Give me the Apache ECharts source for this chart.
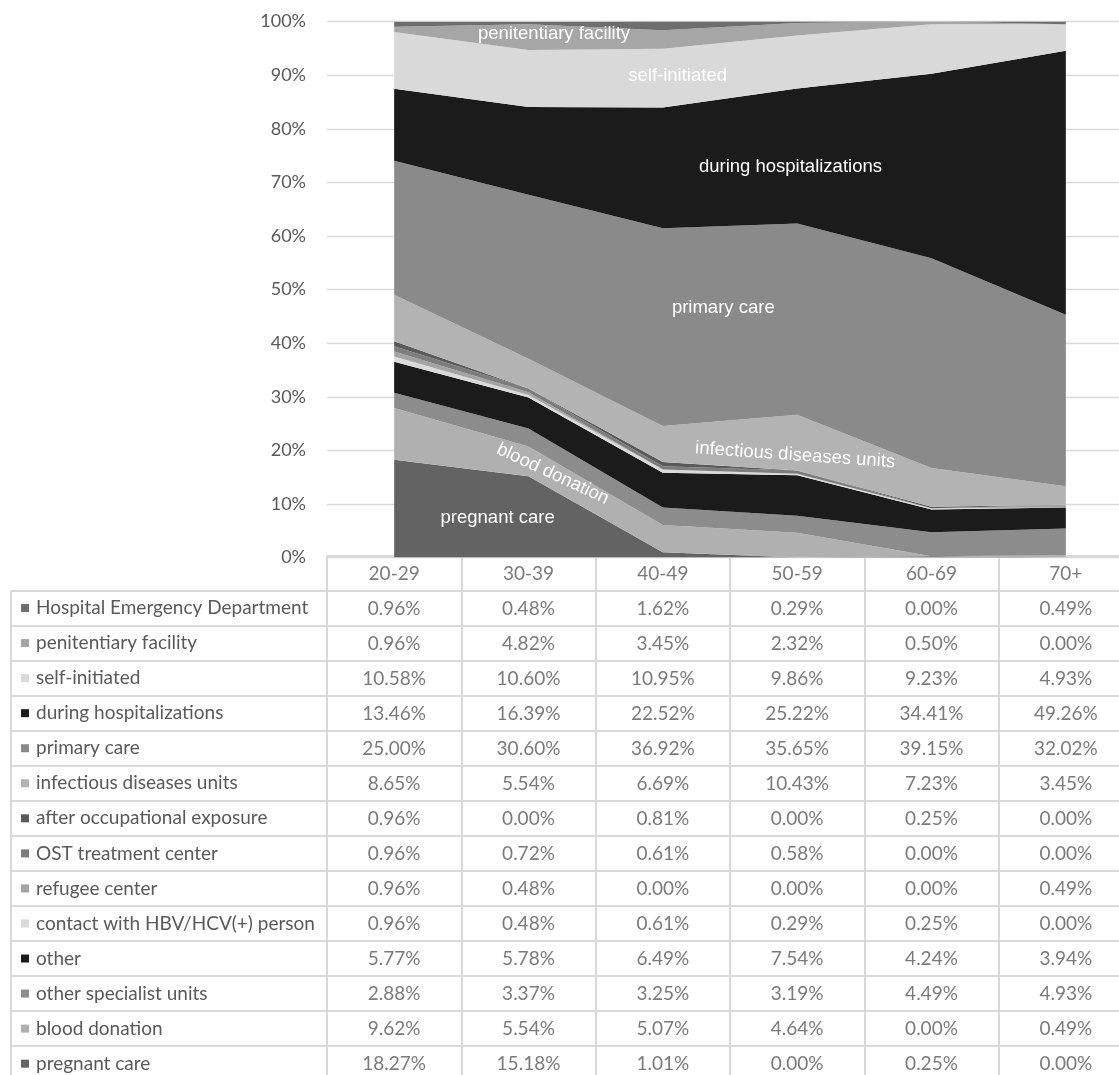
<!DOCTYPE html>
<html>
<head>
<meta charset="utf-8">
<script src="https://cdn.jsdelivr.net/npm/echarts@6/dist/echarts.min.js"></script>
<style>html,body{margin:0;padding:0;background:#fff;}#c{width:1119px;height:1075px;}</style>
</head>
<body>
<div id="c"></div>
<script>
// ---- data ----
const categories = ['20-29', '30-39', '40-49', '50-59', '60-69', '70+'];
const yTicks = [0, 10, 20, 30, 40, 50, 60, 70, 80, 90, 100];

const hospitalED      = [0.96, 0.48, 1.62, 0.29, 0.00, 0.49];
const penitentiary    = [0.96, 4.82, 3.45, 2.32, 0.50, 0.00];
const selfInitiated   = [10.58, 10.60, 10.95, 9.86, 9.23, 4.93];
const duringHosp      = [13.46, 16.39, 22.52, 25.22, 34.41, 49.26];
const primaryCare     = [25.00, 30.60, 36.92, 35.65, 39.15, 32.02];
const infectious      = [8.65, 5.54, 6.69, 10.43, 7.23, 3.45];
const occupational    = [0.96, 0.00, 0.81, 0.00, 0.25, 0.00];
const ostCenter       = [0.96, 0.72, 0.61, 0.58, 0.00, 0.00];
const refugee         = [0.96, 0.48, 0.00, 0.00, 0.00, 0.49];
const contactHBV      = [0.96, 0.48, 0.61, 0.29, 0.25, 0.00];
const other           = [5.77, 5.78, 6.49, 7.54, 4.24, 3.94];
const otherSpecialist = [2.88, 3.37, 3.25, 3.19, 4.49, 4.93];
const bloodDonation   = [9.62, 5.54, 5.07, 4.64, 0.00, 0.49];
const pregnantCare    = [18.27, 15.18, 1.01, 0.00, 0.25, 0.00];

// table order (top to bottom) = reverse of stacking order
const rowNames = ['Hospital Emergency Department', 'penitentiary facility', 'self-initiated',
  'during hospitalizations', 'primary care', 'infectious diseases units', 'after occupational exposure',
  'OST treatment center', 'refugee center', 'contact with HBV/HCV(+) person', 'other',
  'other specialist units', 'blood donation', 'pregnant care'];
const rowValues = [hospitalED, penitentiary, selfInitiated, duringHosp, primaryCare, infectious,
  occupational, ostCenter, refugee, contactHBV, other, otherSpecialist, bloodDonation, pregnantCare];
const rowColors = ['#6e6e6e', '#a6a6a6', '#d9d9d9', '#1b1b1b', '#8a8a8a', '#b3b3b3', '#5a5a5a',
  '#7d7d7d', '#a3a3a3', '#dadada', '#1b1b1b', '#8c8c8c', '#b0b0b0', '#636363'];

// in-chart area labels: [text, category position, value, rotation]
const areaLabels = [
  ['penitentiary facility', 1.19, 97.7, 0],
  ['self-initiated', 2.11, 89.8, 0],
  ['during hospitalizations', 2.95, 72.9, 0],
  ['primary care', 2.45, 46.6, 0],
  ['infectious diseases units', 2.985, 19.1, -4],
  ['blood donation', 1.18, 15.6, -25],
  ['pregnant care', 0.77, 7.4, 0]
];

// ---- chart ----
const chart = echarts.init(document.getElementById('c'), null, {renderer: 'canvas', width: 1119, height: 1075});
const tableFont = 'Lato';
const gray = '#595959';
const border = '#d9d9d9';

const nRows = rowNames.length;
const stackSeries = [];
for (let i = nRows - 1; i >= 0; i--) {
  stackSeries.push({
    name: rowNames[i], type: 'line', stack: 'total', xAxisIndex: 0, yAxisIndex: 0,
    symbol: 'none', showSymbol: false, silent: true,
    lineStyle: {width: 0}, itemStyle: {color: rowColors[i]},
    areaStyle: {color: rowColors[i], opacity: 1},
    data: rowValues[i], z: 2
  });
}

// table cells (header row + value rows)
const tableRowsCats = ['hdr'].concat(rowNames);
const cellData = [];
categories.forEach((c, ci) => {
  cellData.push({value: [ci, 0], label: {formatter: c}});
  rowValues.forEach((arr, ri) => {
    cellData.push({value: [ci, ri + 1], label: {formatter: arr[ci].toFixed(2) + '%'}});
  });
});

const rich = {};
rowColors.forEach((col, i) => {
  rich['b' + i] = {width: 8, height: 8, backgroundColor: col};
});
rich.t = {fontFamily: tableFont, fontSize: 19, color: gray, padding: [0, 0, 0, 7]};

const rowH = 35.05;
const option = {
  animation: false,
  backgroundColor: '#fff',
  grid: [
    {left: 327, top: 21.6, width: 806, height: 536, outerBoundsMode: 'none', containLabel: false},
    {left: 327, top: 556, width: 806, height: rowH * (nRows + 1) - 0.7, outerBoundsMode: 'none', containLabel: false},
    {left: 11, top: 590.5, width: 315.5, height: rowH * nRows, outerBoundsMode: 'none', containLabel: false}
  ],
  xAxis: [
    {gridIndex: 0, type: 'category', data: categories, boundaryGap: true,
      axisLine: {show: false}, axisTick: {show: false}, axisLabel: {show: false}, splitLine: {show: false}},
    {gridIndex: 1, type: 'category', data: categories, boundaryGap: true,
      axisLine: {show: false}, axisTick: {show: false}, axisLabel: {show: false},
      splitLine: {show: true, lineStyle: {color: border, width: 2}}},
    {gridIndex: 2, type: 'category', data: ['label'], boundaryGap: true,
      axisLine: {show: false}, axisTick: {show: false}, axisLabel: {show: false},
      splitLine: {show: true, lineStyle: {color: border, width: 2}}}
  ],
  yAxis: [
    {gridIndex: 0, type: 'value', min: 0, max: 100, interval: 10,
      axisLine: {show: false}, axisTick: {show: false},
      axisLabel: {formatter: '{value}%', color: gray, fontFamily: tableFont, fontSize: 18, margin: 21},
      splitLine: {show: true, lineStyle: {color: border, width: 1.3}}},
    {gridIndex: 1, type: 'category', data: tableRowsCats, inverse: true, boundaryGap: true,
      axisLine: {show: false}, axisTick: {show: false}, axisLabel: {show: false},
      splitLine: {show: true, lineStyle: {color: border, width: 2}}},
    {gridIndex: 2, type: 'category', data: rowNames, inverse: true, boundaryGap: true,
      axisLine: {show: false}, axisTick: {show: false},
      axisLabel: {inside: true, margin: 10, align: 'left',
        formatter: (v, idx) => '{b' + idx + '|}{t|' + v + '}', rich: rich},
      splitLine: {show: true, lineStyle: {color: border, width: 2}}}
  ],
  series: stackSeries.concat([{
    type: 'scatter', xAxisIndex: 1, yAxisIndex: 1, symbolSize: 0, silent: true,
    label: {show: true, position: 'inside', color: gray, fontFamily: tableFont, fontSize: 19},
    data: cellData
  }])
};
chart.setOption(option);

// area labels anchored through the chart's scales
const p0 = chart.convertToPixel({xAxisIndex: 0, yAxisIndex: 0}, [categories[0], 0]);
const p1 = chart.convertToPixel({xAxisIndex: 0, yAxisIndex: 0}, [categories[1], 0]);
const step = p1[0] - p0[0];
const graphics = areaLabels.map(([txt, pos, val, rot]) => {
  const py = chart.convertToPixel({yAxisIndex: 0}, val);
  return {
    type: 'text', x: p0[0] + pos * step, y: py, rotation: rot * Math.PI / 180, z: 10,
    style: {text: txt, fill: '#ffffff', font: '18.5px "Liberation Sans", Arial, sans-serif',
      textAlign: 'center', textVerticalAlign: 'middle'}
  };
});
chart.setOption({graphic: graphics});
</script>
</body>
</html>
